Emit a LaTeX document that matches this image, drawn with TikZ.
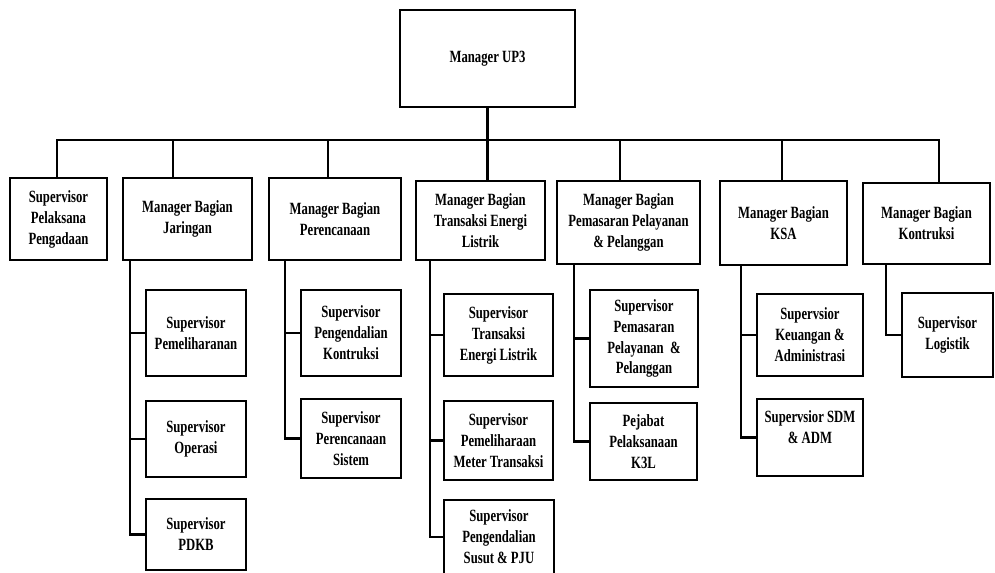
\documentclass[tikz,border=0pt]{standalone}
\usepackage{fontspec}
\newfontfamily\orgfont[FakeStretch=0.74]{Liberation Serif}
\usetikzlibrary{positioning}

\tikzset{
    unit/.style   = {draw, line width=1.8pt, align=center, inner sep=0pt,
                     font=\orgfont\bfseries\fontsize{12.2}{14.9}\selectfont},
    link/.style   = {line width=1.6pt},
}

\begin{document}
\begin{tikzpicture}[x=0.025cm, y=-0.025cm]
    \useasboundingbox (0,0) rectangle (995,573);

    % top
    \node[unit, minimum width=4.375cm, minimum height=2.425cm] (up3) at (487.5, 58.5) {Manager UP3};

    % bagian
    \node[unit, minimum width=2.425cm, minimum height=2.05cm]  (pelaksana)   at ( 58.5, 219.0) {Supervisor\\Pelaksana\\Pengadaan};
    \node[unit, minimum width=3.225cm, minimum height=2.05cm]  (jaringan)    at (187.5, 219.0) {Manager Bagian\\Jaringan};
    \node[unit, minimum width=3.3cm,   minimum height=2.05cm]  (perencanaan) at (335.0, 219.0) {Manager Bagian\\Perencanaan};
    \node[unit, minimum width=3.225cm, minimum height=1.975cm] (transaksi)   at (480.5, 220.5) {Manager Bagian\\Transaksi Energi\\Listrik};
    \node[unit, minimum width=3.575cm, minimum height=2.075cm] (pemasaran)   at (628.5, 222.5) {Manager Bagian\\Pemasaran Pelayanan\\\& Pelanggan};
    \node[unit, minimum width=3.175cm, minimum height=2.1cm]   (ksa)         at (783.5, 223.0) {Manager Bagian\\KSA};
    \node[unit, minimum width=3.175cm, minimum height=2.025cm] (kontruksi)   at (926.5, 223.5) {Manager Bagian\\Kontruksi};

    % supervisor
    \node[unit, minimum width=2.5cm,   minimum height=2.15cm]  (pemeliharanan) at (196.0, 333.0) {Supervisor\\Pemeliharanan};
    \node[unit, minimum width=2.5cm,   minimum height=1.9cm]   (operasi)       at (196.0, 439.0) {Supervisor\\Operasi};
    \node[unit, minimum width=2.5cm,   minimum height=1.775cm] (pdkb)          at (196.0, 534.5) {Supervisor\\PDKB};
    \node[unit, minimum width=2.5cm,   minimum height=2.15cm]  (pengendalian)  at (351.0, 333.0) {Supervisor\\Pengendalian\\Kontruksi};
    \node[unit, minimum width=2.5cm,   minimum height=1.975cm] (sistem)        at (351.0, 438.5) {Supervisor\\Perencanaan\\Sistem};
    \node[unit, minimum width=2.725cm, minimum height=2.05cm]  (tel)           at (498.5, 335.0) {Supervisor\\Transaksi\\Energi Listrik};
    \node[unit, minimum width=2.725cm, minimum height=1.975cm] (meter)         at (498.5, 440.5) {Supervisor\\Pemeliharaan\\Meter Transaksi};
    \node[unit, minimum width=2.75cm,  minimum height=1.85cm]  (susut)         at (499.0, 537.0) {Supervisor\\Pengendalian\\Susut \& PJU};
    \node[unit, minimum width=2.7cm,   minimum height=2.425cm] (pelanggan)     at (644.0, 338.5) {Supervisor\\Pemasaran\\Pelayanan\ \ \&\\Pelanggan};
    \node[unit, minimum width=2.675cm, minimum height=1.925cm] (k3l)           at (643.5, 441.5) {Pejabat\\Pelaksanaan\\K3L};
    \node[unit, minimum width=2.65cm,  minimum height=2.05cm]  (keuangan)      at (810.0, 335.0) {Supervsior\\Keuangan \&\\Administrasi};
    \node[unit, minimum width=2.65cm,  minimum height=1.925cm] (sdm)           at (810.0, 437.5) {Supervsior SDM\\\& ADM\\~};
    \node[unit, minimum width=2.275cm, minimum height=2.1cm]   (logistik)      at (947.5, 335.0) {Supervisor\\Logistik};

    % bus
    \coordinate (bus) at (487, 140);
    \draw[link] (up3.south) -- (up3.south |- transaksi.north);
    \draw[link] (57,0 |- pelaksana.north) -- (57,0 |- bus) -- (939,0 |- bus) -- (939,0 |- kontruksi.north);
    \foreach \sx/\n in {173/jaringan, 328/perencanaan, 620/pemasaran, 782/ksa}
        \draw[link] (\sx,0 |- bus) -- (\sx,0 |- \n.north);

    % trunks
    \foreach \tx/\p/\c in {130/jaringan/pdkb, 285/perencanaan/sistem, 430/transaksi/susut,
                           574/pemasaran/k3l, 741/ksa/sdm, 886/kontruksi/logistik}
        \draw[link] (\tx,0 |- \p.south) |- (\c.west);
    \foreach \tx/\c in {130/pemeliharanan, 130/operasi, 285/pengendalian, 430/tel,
                        430/meter, 574/pelanggan, 741/keuangan}
        \draw[link] (\tx,0 |- \c.west) -- (\c.west);
\end{tikzpicture}
\end{document}
